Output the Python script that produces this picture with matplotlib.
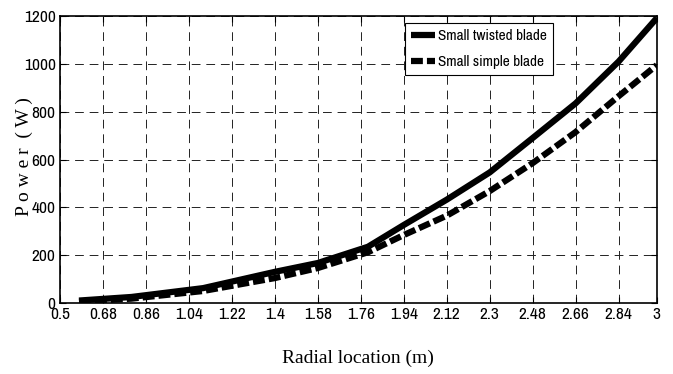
import numpy as np
import matplotlib.pyplot as plt

# data
radius = [0.58, 0.8, 1.1, 1.4, 1.58, 1.79, 1.94, 2.12, 2.3, 2.48, 2.66, 2.84, 3.0]
twisted = [10, 25, 62, 130, 167, 235, 326, 432, 546, 690, 835, 1010, 1192]
simple = [5, 18, 50, 104, 146, 212, 284, 365, 468, 585, 715, 865, 995]
xticks = [0.5, 0.68, 0.86, 1.04, 1.22, 1.4, 1.58, 1.76, 1.94, 2.12, 2.3, 2.48, 2.66, 2.84, 3]

narrow = ['Archivo Narrow', 'Liberation Sans']
serif = ['Liberation Serif', 'DejaVu Serif']

fig = plt.figure(figsize=(6.73, 3.74), dpi=100)
ax = fig.add_axes([0.089, 0.19, 0.887, 0.767])

ax.plot(radius, twisted, color='black', lw=4.5, solid_capstyle='butt',
        label='Small twisted blade')
ax.plot(radius, simple, color='black', lw=4.5, ls=(0, (1.9, 0.65)),
        dash_capstyle='butt', label='Small simple blade')

ax.set_xlim(0.5, 3)
ax.set_ylim(0, 1200)
ax.set_xticks(xticks)
ax.set_xticklabels([f'{t:g}' for t in xticks])
ax.set_yticks(range(0, 1201, 200))
ax.grid(True, color='#222222', ls=(0, (9, 6)), lw=0.7)
ax.tick_params(direction='in', length=4, width=0.8, labelsize=12.5, pad=3,
               top=True, right=True)
for lab in ax.get_xticklabels() + ax.get_yticklabels():
    lab.set_family(narrow)
for s in ax.spines.values():
    s.set_linewidth(1.2)

ax.set_xlabel('Radial location (m)', family=serif, fontsize=14, labelpad=20)
ax.set_ylabel('P o w e r  ( W )', family=serif, fontsize=14)
ax.yaxis.set_label_coords(-0.045, 0.51)

leg = ax.legend(loc='upper left', bbox_to_anchor=(0.578, 0.976), fancybox=False,
                edgecolor='black', framealpha=1, handlelength=1.6, handletextpad=0.15,
                borderpad=0.4, labelspacing=0.8, borderaxespad=0,
                prop={'family': narrow, 'size': 11})
leg.get_frame().set_linewidth(0.8)

fig.savefig('out.png', dpi=100)
